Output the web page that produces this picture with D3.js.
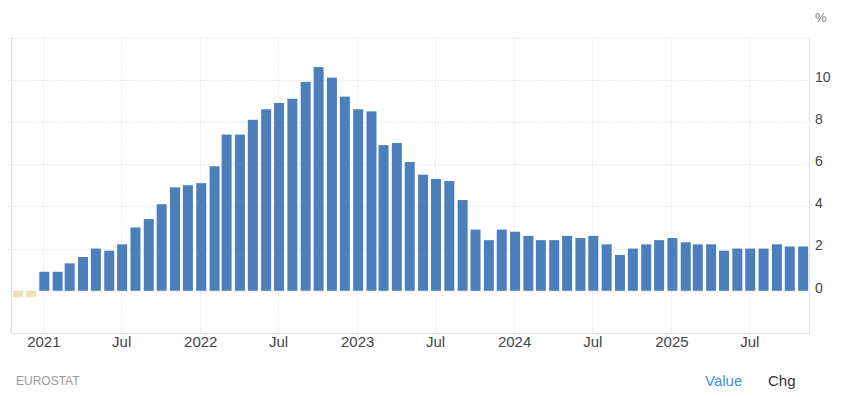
<!DOCTYPE html>
<html>
<head>
<meta charset="utf-8">
<script src="https://cdn.jsdelivr.net/npm/d3@7"></script>
<style>
  body { margin: 0; background: #fff; }
  svg { font-family: "Liberation Sans", Arial, sans-serif; }
</style>
</head>
<body>
<div id="chart"></div>
<script>
// monthly euro area inflation, Nov 2020 .. Nov 2025
const months = [
  "2020-11","2020-12",
  "2021-01","2021-02","2021-03","2021-04","2021-05","2021-06","2021-07","2021-08","2021-09","2021-10","2021-11","2021-12",
  "2022-01","2022-02","2022-03","2022-04","2022-05","2022-06","2022-07","2022-08","2022-09","2022-10","2022-11","2022-12",
  "2023-01","2023-02","2023-03","2023-04","2023-05","2023-06","2023-07","2023-08","2023-09","2023-10","2023-11","2023-12",
  "2024-01","2024-02","2024-03","2024-04","2024-05","2024-06","2024-07","2024-08","2024-09","2024-10","2024-11","2024-12",
  "2025-01","2025-02","2025-03","2025-04","2025-05","2025-06","2025-07","2025-08","2025-09","2025-10","2025-11"
];
const values = [
  -0.3, -0.3,
  0.9, 0.9, 1.3, 1.6, 2.0, 1.9, 2.2, 3.0, 3.4, 4.1, 4.9, 5.0,
  5.1, 5.9, 7.4, 7.4, 8.1, 8.6, 8.9, 9.1, 9.9, 10.6, 10.1, 9.2,
  8.6, 8.5, 6.9, 7.0, 6.1, 5.5, 5.3, 5.2, 4.3, 2.9, 2.4, 2.9,
  2.8, 2.6, 2.4, 2.4, 2.6, 2.5, 2.6, 2.2, 1.7, 2.0, 2.2, 2.4,
  2.5, 2.3, 2.2, 2.2, 1.9, 2.0, 2.0, 2.0, 2.2, 2.1, 2.1
];
const yTicks = [0, 2, 4, 6, 8, 10];
const xTicks = ["2021-01","2021-07","2022-01","2022-07","2023-01","2023-07","2024-01","2024-07","2025-01","2025-07"];

const width = 841, height = 397;
const plot = { left: 11.5, right: 809, top: 37.5, bottom: 333 };

const parse = d3.timeParse("%Y-%m");
const data = months.map((m, i) => ({ date: parse(m), value: values[i] }));

const svg = d3.select("#chart").append("svg")
    .attr("width", width)
    .attr("height", height);

const x = d3.scaleTime()
    .domain([new Date(2020, 9, 19), new Date(2025, 10, 17)])
    .range([plot.left, plot.right]);

const y = d3.scaleLinear()
    .domain([-2, 12])
    .range([plot.bottom, plot.top]);

// dotted grid
const grid = svg.append("g");
grid.selectAll("line.h")
    .data(yTicks.concat([12]))
    .enter().append("line")
    .attr("x1", plot.left - 3)
    .attr("x2", plot.right)
    .attr("y1", d => Math.round(y(d)) + 0.5)
    .attr("y2", d => Math.round(y(d)) + 0.5)
    .attr("stroke", "#d8d8d8")
    .attr("stroke-dasharray", "1,2");

grid.selectAll("line.v")
    .data(xTicks)
    .enter().append("line")
    .attr("x1", d => Math.round(x(parse(d))) + 0.5)
    .attr("x2", d => Math.round(x(parse(d))) + 0.5)
    .attr("y1", plot.top)
    .attr("y2", plot.bottom)
    .attr("stroke", "#d8d8d8")
    .attr("stroke-dasharray", "1,2");

// plot frame (left, right, bottom)
svg.append("path")
    .attr("d", `M${plot.left},${plot.top}V${plot.bottom + 0.5}H${plot.right + 0.5}V${plot.top}`)
    .attr("fill", "none")
    .attr("stroke", "#e3e3e3");

// bars
const barW = 10;
svg.append("g").selectAll("rect")
    .data(data)
    .enter().append("rect")
    .attr("x", d => x(d.date) + 1 - barW / 2)
    .attr("width", barW)
    .attr("y", d => y(Math.max(0, d.value)))
    .attr("height", d => Math.abs(y(d.value) - y(0)))
    .attr("fill", d => d.value < 0 ? "#f3dfb4" : "#4e7fbd");

// y axis labels on the right
const yAxis = d3.axisRight(y).tickValues(yTicks).tickSize(0).tickPadding(0);
const yg = svg.append("g")
    .attr("transform", `translate(${plot.right + 6},0)`)
    .call(yAxis);
yg.select(".domain").remove();
yg.selectAll("text")
    .attr("dy", "0.1em")
    .style("font-size", "14px")
    .style("font-family", "Liberation Sans, Arial, sans-serif")
    .attr("fill", "#444");

// x axis labels
const xAxis = d3.axisBottom(x)
    .tickValues(xTicks.map(parse))
    .tickFormat(d => d.getMonth() === 0 ? d3.timeFormat("%Y")(d) : d3.timeFormat("%b")(d))
    .tickSize(0)
    .tickPadding(0);
const xg = svg.append("g")
    .attr("transform", `translate(0,${plot.bottom + 14})`)
    .call(xAxis);
xg.select(".domain").remove();
xg.selectAll("text")
    .attr("dy", "0")
    .style("font-size", "15px")
    .style("font-family", "Liberation Sans, Arial, sans-serif")
    .attr("fill", "#444");

// unit
svg.append("text")
    .attr("x", 815)
    .attr("y", 22)
    .attr("fill", "#777")
    .style("font-size", "13px")
    .text("%");

// footer
svg.append("text")
    .attr("x", 16)
    .attr("y", 385)
    .attr("fill", "#999")
    .style("font-size", "12px")
    .text("EUROSTAT");

svg.append("text")
    .attr("x", 705)
    .attr("y", 386)
    .attr("fill", "#3d95e0")
    .style("font-size", "15px")
    .text("Value");

svg.append("text")
    .attr("x", 768)
    .attr("y", 386)
    .attr("fill", "#333")
    .style("font-size", "15px")
    .text("Chg");
</script>
</body>
</html>
